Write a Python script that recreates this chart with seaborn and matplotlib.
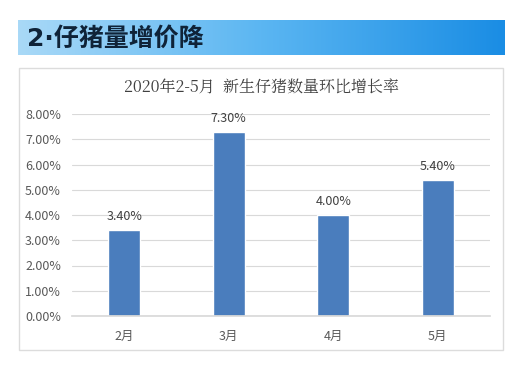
import numpy as np
import pandas as pd
import matplotlib
matplotlib.use("Agg")
import matplotlib.pyplot as plt
import seaborn as sns
from matplotlib.patches import Rectangle
from matplotlib.colors import LinearSegmentedColormap

months = ["2月", "3月", "4月", "5月"]
growth = [3.40, 7.30, 4.00, 5.40]
yticks = [0, 1, 2, 3, 4, 5, 6, 7, 8]
title = "2020年2-5月  新生仔猪数量环比增长率"
banner = "2·仔猪量增价降"

sns.set_theme(style="white")
plt.rcParams['font.family'] = ['Noto Sans CJK SC', 'DejaVu Sans']

W, H = 521, 365
fig = plt.figure(figsize=(W / 100, H / 100), dpi=100)
fig.patch.set_facecolor("white")

# banner with gradient
bax = fig.add_axes([18 / W, 1 - 55 / H, 487 / W, 35 / H])
grad = np.linspace(0, 1, 256).reshape(1, -1)
cmap = LinearSegmentedColormap.from_list("b", ["#a9d9f7", "#5bb6f2", "#1a8de4"])
bax.imshow(grad, aspect="auto", cmap=cmap, extent=[0, 1, 0, 1])
bax.set_xlim(0, 1)
bax.set_ylim(0, 1)
bax.axis("off")
bax.text(0.018, 0.47, banner, fontsize=18, fontweight="bold", color="#0f2338",
         va="center", ha="left", family=['DejaVu Sans', 'Noto Sans CJK SC'])

# chart frame
fig.patches.append(Rectangle((19 / W, 1 - 350 / H), (503 - 19) / W, (350 - 68) / H,
                             transform=fig.transFigure, facecolor="none",
                             edgecolor="#dcdcdc", linewidth=1.0, zorder=-1))

ax = fig.add_axes([72 / W, 1 - 316 / H, (490 - 72) / W, (316 - 114) / H])
df = pd.DataFrame({"month": months, "growth": growth})
sns.barplot(data=df, x="month", y="growth", color="#4a7dbd", saturation=1,
            width=0.31, ax=ax)
ax.set_ylim(0, 8)
ax.set_yticks(yticks)
ax.set_yticklabels([f"{v:.2f}%" for v in yticks], fontsize=9, color="#595959")
ax.tick_params(axis="x", labelsize=9, labelcolor="#595959", length=0, pad=10)
ax.tick_params(axis="y", length=0, pad=8)
ax.set_xlabel("")
ax.set_ylabel("")
ax.grid(axis="y", color="#d9d9d9", linewidth=0.8)
ax.set_axisbelow(True)
for s in ["top", "right", "left"]:
    ax.spines[s].set_visible(False)
ax.spines["bottom"].set_color("#d9d9d9")
ax.set_facecolor("none")
for p, v in zip(ax.patches, growth):
    ax.annotate(f"{v:.2f}%", (p.get_x() + p.get_width() / 2, p.get_height()),
                xytext=(0, 5), textcoords="offset points", ha="center", va="bottom",
                fontsize=9, color="#404040")

fig.text(261 / W, 1 - 88 / H, title, ha="center", va="center", fontsize=11.5,
         color="#404040", family=['Noto Serif CJK SC', 'Noto Sans CJK SC', 'DejaVu Sans'])

fig.savefig("out.png", dpi=100)
